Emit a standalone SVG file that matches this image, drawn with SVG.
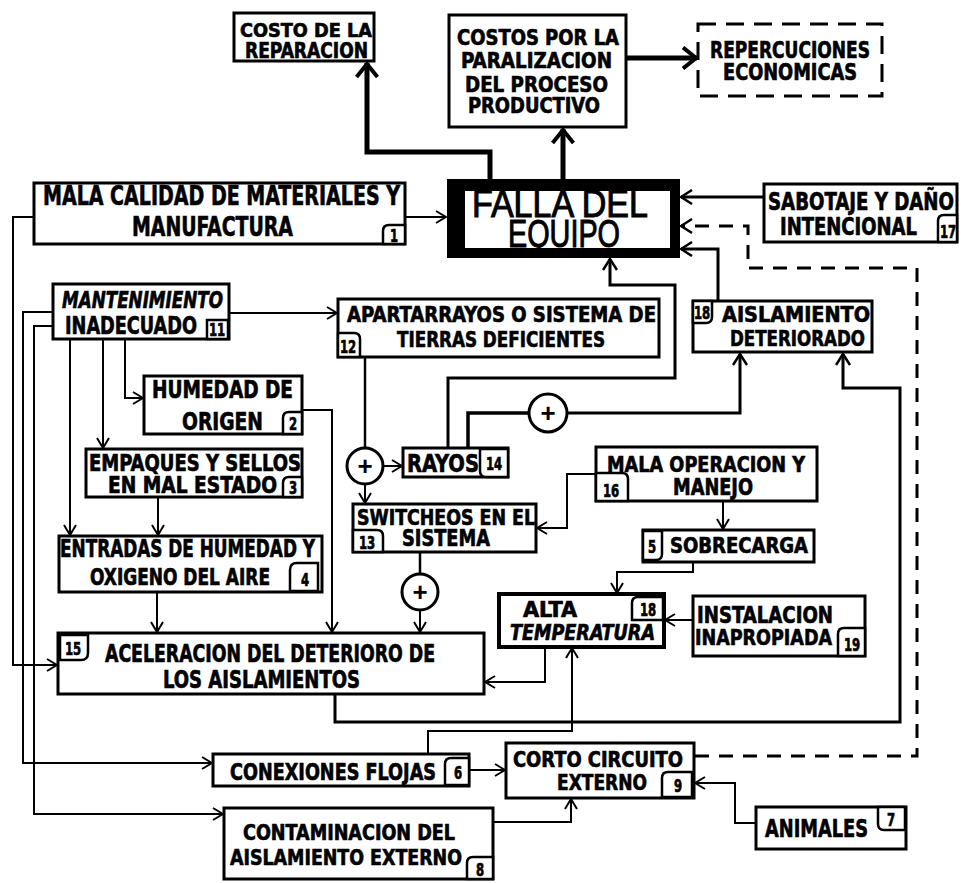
<svg xmlns="http://www.w3.org/2000/svg" width="962" height="883" viewBox="0 0 962 883">
<defs>
<style>
.b{fill:#fff;stroke:#000;stroke-width:3}
.bd{fill:#fff;stroke:#000;stroke-width:3;stroke-dasharray:18 10}
.n{fill:#fff;stroke:#000;stroke-width:2.5}
.t{font-family:"Liberation Sans Narrow","DejaVu Sans Condensed","Liberation Sans",Arial,sans-serif;font-weight:bold;fill:#000;stroke:#000;stroke-width:0.5}
.nt{font-size:13px;text-anchor:middle}
.big{font-family:"Liberation Sans",Arial,sans-serif;font-weight:normal;font-size:30px;fill:#000;stroke:#000;stroke-width:0.8}
.c{fill:none;stroke:#000;stroke-width:2;marker-end:url(#a)}
.c0{fill:none;stroke:#000;stroke-width:2.5}
.c3{fill:none;stroke:#000;stroke-width:3;marker-end:url(#am)}
.c3n{fill:none;stroke:#000;stroke-width:3.5}
.c5{fill:none;stroke:#000;stroke-width:5;marker-end:url(#at)}
.cd{fill:none;stroke:#000;stroke-width:3;stroke-dasharray:14 10;marker-end:url(#am)}
.j{fill:#fff;stroke:#000;stroke-width:3}
.pl{font-family:"Liberation Sans",Arial,sans-serif;font-weight:bold;font-size:26px;text-anchor:middle;fill:#000}
</style>
<marker id="a" viewBox="0 0 12 14" refX="11" refY="7" markerWidth="12" markerHeight="14" markerUnits="userSpaceOnUse" orient="auto"><path d="M1,1 L11,7 L1,13" fill="none" stroke="#000" stroke-width="2"/></marker>
<marker id="am" viewBox="0 0 13 16" refX="12" refY="8" markerWidth="13" markerHeight="16" markerUnits="userSpaceOnUse" orient="auto"><path d="M1,1 L12,8 L1,15" fill="none" stroke="#000" stroke-width="2.5"/></marker>
<marker id="at" viewBox="0 0 16 24" refX="15" refY="12" markerWidth="16" markerHeight="24" markerUnits="userSpaceOnUse" orient="auto"><path d="M1,1.5 L14,12 L1,22.5" fill="none" stroke="#000" stroke-width="4"/></marker>
</defs>
<rect width="962" height="883" fill="#fff"/>

<g id="connectors">
<path class="c5" d="M490,180 V152 H367 V63"/>
<path class="c5" d="M563,180 V129"/>
<path class="c5" d="M627,58 H697"/>
<path class="c" d="M406,217 H446"/>
<path class="c3" d="M763,197 H681"/>
<path class="cd" d="M695,756 H917 V268 H748 V226 H681"/>
<path class="c3" d="M718,300 V249 H681"/>
<path class="c3" d="M448,447 V378 H675 V285 H610 V259"/>
<path class="c3n" d="M468,447 V413 H529"/>
<path class="c3" d="M567,413 H740 V354"/>
<path class="c3" d="M335,695 V722 H900 V388 H843 V354"/>
<path class="c" d="M34,217 H13 V665 H57"/>
<path class="c" d="M53,312 H23 V763 H212"/>
<path class="c" d="M53,326 H34 V814 H223"/>
<path class="c" d="M229,313 H337"/>
<path class="c" d="M70,339 V535"/>
<path class="c" d="M103,339 V448"/>
<path class="c" d="M125,339 V398 H143"/>
<path class="c" d="M302,410 H332 V632"/>
<path class="c" d="M158,497 V535"/>
<path class="c" d="M157,592 V632"/>
<path class="c0" d="M365,357 V448"/>
<path class="c" d="M383,466 H402"/>
<path class="c" d="M365,484 V503"/>
<path class="c" d="M596,474 H567 V528 H537"/>
<path class="c" d="M723,501 V529"/>
<path class="c" d="M693,562 V572 H617 V593"/>
<path class="c0" d="M420,552 V574"/>
<path class="c" d="M420,610 V632"/>
<path class="c" d="M545,647 V682 H485"/>
<path class="c" d="M692,620 H665"/>
<path class="c" d="M428,754 V731 H572 V648"/>
<path class="c" d="M469,770 H505"/>
<path class="c" d="M493,822 H571 V799"/>
<path class="c" d="M756,823 H735 V783 H695"/>
</g>

<g id="j1"><circle class="j" cx="365" cy="466" r="18"/><text class="pl" x="365" y="475">+</text></g>
<g id="j2"><circle class="j" cx="548" cy="413" r="19"/><text class="pl" x="548" y="422">+</text></g>
<g id="j3"><circle class="j" cx="420" cy="592" r="18"/><text class="pl" x="420" y="601">+</text></g>

<g id="costo-reparacion">
<rect class="b" x="234" y="13" width="140" height="48"/>
<text class="t" font-size="15.4" transform="translate(240,37) scale(1,1.3)" textLength="132" lengthAdjust="spacingAndGlyphs">COSTO DE LA</text>
<text class="t" font-size="16.2" transform="translate(245,58) scale(1,1.3)" textLength="123" lengthAdjust="spacingAndGlyphs">REPARACION</text>
</g>

<g id="costos-paralizacion">
<rect class="b" x="449" y="15" width="177" height="112"/>
<text class="t" font-size="16.9" transform="translate(457,45) scale(1,1.3)" textLength="162" lengthAdjust="spacingAndGlyphs">COSTOS POR LA</text>
<text class="t" font-size="16.9" transform="translate(461,68) scale(1,1.3)" textLength="151" lengthAdjust="spacingAndGlyphs">PARALIZACION</text>
<text class="t" font-size="16.9" transform="translate(465,92) scale(1,1.3)" textLength="143" lengthAdjust="spacingAndGlyphs">DEL PROCESO</text>
<text class="t" font-size="16.9" transform="translate(468,113) scale(1,1.3)" textLength="132" lengthAdjust="spacingAndGlyphs">PRODUCTIVO</text>
</g>

<g id="repercusiones">
<rect class="bd" x="698" y="24" width="184" height="72"/>
<text class="t" font-size="17.7" transform="translate(710,58) scale(1,1.3)" textLength="160" lengthAdjust="spacingAndGlyphs">REPERCUCIONES</text>
<text class="t" font-size="17.7" transform="translate(723,80) scale(1,1.3)" textLength="134" lengthAdjust="spacingAndGlyphs">ECONOMICAS</text>
</g>

<g id="falla-equipo">
<rect x="447" y="179" width="233" height="79" fill="#000"/>
<rect x="465" y="191" width="205" height="57" fill="#fff"/>
<text class="big" transform="translate(472,217) scale(1,1.27)" textLength="176" lengthAdjust="spacingAndGlyphs">FALLA DEL</text>
<text class="big" transform="translate(508,247) scale(1,1.27)" textLength="112" lengthAdjust="spacingAndGlyphs">EQUIPO</text>
</g>

<g id="n1">
<rect class="b" x="34" y="183" width="371" height="61"/>
<text class="t" font-size="20.8" transform="translate(43,205) scale(1,1.3)" textLength="357" lengthAdjust="spacingAndGlyphs">MALA CALIDAD DE MATERIALES Y</text>
<text class="t" font-size="20.8" transform="translate(132,236) scale(1,1.3)" textLength="161" lengthAdjust="spacingAndGlyphs">MANUFACTURA</text>
<path class="n" d="M383,244 V231 Q383,225 389,225 H405 V244 Z"/>
<text class="t nt" transform="translate(394,242) scale(1,1.3)">1</text>
</g>

<g id="n17">
<rect class="b" x="764" y="184" width="193" height="58"/>
<text class="t" font-size="18.5" transform="translate(768,210) scale(1,1.3)" textLength="186" lengthAdjust="spacingAndGlyphs">SABOTAJE Y DAÑO</text>
<text class="t" font-size="18.5" transform="translate(780,235) scale(1,1.3)" textLength="137" lengthAdjust="spacingAndGlyphs">INTENCIONAL</text>
<path class="n" d="M938,242 V221 Q938,215 944,215 H957 V242 Z"/>
<text class="t nt" transform="translate(948,238) scale(1,1.3)">17</text>
</g>

<g id="n11">
<rect class="b" x="53" y="284" width="176" height="55"/>
<text class="t" font-size="17.7" font-style="italic" transform="translate(62,308) scale(1,1.3)" textLength="161" lengthAdjust="spacingAndGlyphs">MANTENIMIENTO</text>
<text class="t" font-size="18.5" transform="translate(65,334) scale(1,1.3)" textLength="132" lengthAdjust="spacingAndGlyphs">INADECUADO</text>
<rect class="n" x="207" y="320" width="21" height="19"/>
<text class="t nt" transform="translate(217,336) scale(1,1.3)">11</text>
</g>

<g id="n12">
<rect class="b" x="338" y="299" width="321" height="58"/>
<text class="t" font-size="16.9" transform="translate(347,322) scale(1,1.3)" textLength="309" lengthAdjust="spacingAndGlyphs">APARTARRAYOS O SISTEMA DE</text>
<text class="t" font-size="16.9" transform="translate(397,347) scale(1,1.3)" textLength="208" lengthAdjust="spacingAndGlyphs">TIERRAS DEFICIENTES</text>
<path class="n" d="M338,333 H354 Q360,333 360,339 V357 H338 Z"/>
<text class="t nt" transform="translate(348,353) scale(1,1.3)">12</text>
</g>

<g id="n18a">
<rect class="b" x="693" y="301" width="179" height="51"/>
<text class="t" font-size="16.9" transform="translate(722,322) scale(1,1.3)" textLength="148" lengthAdjust="spacingAndGlyphs">AISLAMIENTO</text>
<text class="t" font-size="16.9" transform="translate(730,346) scale(1,1.3)" textLength="135" lengthAdjust="spacingAndGlyphs">DETERIORADO</text>
<path class="n" d="M693,301 H712 V317 Q712,323 706,323 H693 Z"/>
<text class="t nt" transform="translate(702,319) scale(1,1.3)">18</text>
</g>

<g id="n2">
<rect class="b" x="144" y="376" width="158" height="58"/>
<text class="t" font-size="18.5" transform="translate(152,398) scale(1,1.3)" textLength="141" lengthAdjust="spacingAndGlyphs">HUMEDAD DE</text>
<text class="t" font-size="19.2" transform="translate(182,430) scale(1,1.3)" textLength="81" lengthAdjust="spacingAndGlyphs">ORIGEN</text>
<path class="n" d="M283,434 V418 Q283,412 289,412 H302 V434 Z"/>
<text class="t nt" transform="translate(293,430) scale(1,1.3)">2</text>
</g>

<g id="n3">
<rect class="b" x="86" y="449" width="216" height="48"/>
<text class="t" font-size="17.7" transform="translate(89,471) scale(1,1.3)" textLength="212" lengthAdjust="spacingAndGlyphs">EMPAQUES Y SELLOS</text>
<text class="t" font-size="17.7" transform="translate(108,493) scale(1,1.3)" textLength="169" lengthAdjust="spacingAndGlyphs">EN MAL ESTADO</text>
<path class="n" d="M283,497 V483 Q283,477 289,477 H302 V497 Z"/>
<text class="t nt" transform="translate(293,494) scale(1,1.3)">3</text>
</g>

<g id="n4">
<rect class="b" x="59" y="536" width="263" height="56"/>
<text class="t" font-size="18.5" transform="translate(60,557) scale(1,1.3)" textLength="255" lengthAdjust="spacingAndGlyphs">ENTRADAS DE HUMEDAD Y</text>
<text class="t" font-size="17.7" transform="translate(90,585) scale(1,1.3)" textLength="180" lengthAdjust="spacingAndGlyphs">OXIGENO DEL AIRE</text>
<path class="n" d="M290,591 V570 Q290,563 297,563 H318 V591 Z"/>
<text class="t nt" transform="translate(305,586) scale(1,1.3)">4</text>
</g>

<g id="n15">
<rect class="b" x="58" y="633" width="426" height="61"/>
<text class="t" font-size="18.5" transform="translate(105,662) scale(1,1.3)" textLength="330" lengthAdjust="spacingAndGlyphs">ACELERACION DEL DETERIORO DE</text>
<text class="t" font-size="18.5" transform="translate(163,688) scale(1,1.3)" textLength="197" lengthAdjust="spacingAndGlyphs">LOS AISLAMIENTOS</text>
<path class="n" d="M60,635 H88 V653 Q88,660 81,660 H60 Z"/>
<text class="t nt" transform="translate(73,655) scale(1,1.3)">15</text>
</g>

<g id="n14">
<rect class="b" x="403" y="448" width="105" height="29"/>
<text class="t" font-size="19.2" transform="translate(407,472) scale(1,1.3)" textLength="72" lengthAdjust="spacingAndGlyphs">RAYOS</text>
<path class="n" d="M480,449 H508 V477 H486 Q480,477 480,471 Z"/>
<text class="t nt" transform="translate(494,470) scale(1,1.3)">14</text>
</g>

<g id="n13">
<rect class="b" x="353" y="504" width="183" height="48"/>
<text class="t" font-size="16.9" transform="translate(357,525) scale(1,1.3)" textLength="178" lengthAdjust="spacingAndGlyphs">SWITCHEOS EN EL</text>
<text class="t" font-size="17.7" transform="translate(402,546) scale(1,1.3)" textLength="88" lengthAdjust="spacingAndGlyphs">SISTEMA</text>
<path class="n" d="M353,530 H377 Q383,530 383,536 V552 H353 Z"/>
<text class="t nt" transform="translate(367,549) scale(1,1.3)">13</text>
</g>

<g id="n16">
<rect class="b" x="596" y="447" width="221" height="54"/>
<text class="t" font-size="16.9" transform="translate(607,472) scale(1,1.3)" textLength="198" lengthAdjust="spacingAndGlyphs">MALA OPERACION Y</text>
<text class="t" font-size="17.7" transform="translate(673,495) scale(1,1.3)" textLength="80" lengthAdjust="spacingAndGlyphs">MANEJO</text>
<path class="n" d="M596,473 H622 Q628,473 628,479 V501 H596 Z"/>
<text class="t nt" transform="translate(611,497) scale(1,1.3)">16</text>
</g>

<g id="n5">
<rect class="b" x="643" y="530" width="171" height="32"/>
<text class="t" font-size="16.9" transform="translate(670,553) scale(1,1.3)" textLength="138" lengthAdjust="spacingAndGlyphs">SOBRECARGA</text>
<path class="n" d="M643,531 H662 V554 Q662,560 656,560 H643 Z"/>
<text class="t nt" transform="translate(652,553) scale(1,1.3)">5</text>
</g>

<g id="n18b">
<rect class="b" x="499" y="594" width="165" height="53" style="stroke-width:4"/>
<text class="t" font-size="16.2" transform="translate(523,617) scale(1,1.3)" textLength="54" lengthAdjust="spacingAndGlyphs">ALTA</text>
<text class="t" font-size="16.2" font-style="italic" transform="translate(510,640) scale(1,1.3)" textLength="145" lengthAdjust="spacingAndGlyphs">TEMPERATURA</text>
<path class="n" d="M632,620 V603 Q632,597 638,597 H663 V620 Z"/>
<text class="t nt" transform="translate(648,616) scale(1,1.3)">18</text>
</g>

<g id="n19">
<rect class="b" x="693" y="596" width="172" height="60"/>
<text class="t" font-size="17.7" transform="translate(697,623) scale(1,1.3)" textLength="136" lengthAdjust="spacingAndGlyphs">INSTALACION</text>
<text class="t" font-size="16.9" transform="translate(695,645) scale(1,1.3)" textLength="137" lengthAdjust="spacingAndGlyphs">INAPROPIADA</text>
<path class="n" d="M838,656 V634 Q838,628 844,628 H865 V656 Z"/>
<text class="t nt" transform="translate(852,651) scale(1,1.3)">19</text>
</g>

<g id="n6">
<rect class="b" x="213" y="754" width="256" height="32"/>
<text class="t" font-size="17.7" transform="translate(230,780) scale(1,1.3)" textLength="206" lengthAdjust="spacingAndGlyphs">CONEXIONES FLOJAS</text>
<path class="n" d="M445,785 V764 Q445,758 451,758 H469 V785 Z"/>
<text class="t nt" transform="translate(458,779) scale(1,1.3)">6</text>
</g>

<g id="n9">
<rect class="b" x="506" y="743" width="188" height="55"/>
<text class="t" font-size="16.2" transform="translate(513,767) scale(1,1.3)" textLength="170" lengthAdjust="spacingAndGlyphs">CORTO CIRCUITO</text>
<text class="t" font-size="16.9" transform="translate(557,790) scale(1,1.3)" textLength="90" lengthAdjust="spacingAndGlyphs">EXTERNO</text>
<path class="n" d="M662,797 V778 Q662,772 668,772 H692 V797 Z"/>
<text class="t nt" transform="translate(678,792) scale(1,1.3)">9</text>
</g>

<g id="n8">
<rect class="b" x="224" y="808" width="269" height="71"/>
<text class="t" font-size="16.2" transform="translate(243,840) scale(1,1.3)" textLength="212" lengthAdjust="spacingAndGlyphs">CONTAMINACION DEL</text>
<text class="t" font-size="16.9" transform="translate(230,865) scale(1,1.3)" textLength="232" lengthAdjust="spacingAndGlyphs">AISLAMIENTO EXTERNO</text>
<path class="n" d="M467,879 V863 Q467,857 473,857 H493 V879 Z"/>
<text class="t nt" transform="translate(480,876) scale(1,1.3)">8</text>
</g>

<g id="n7">
<rect class="b" x="756" y="807" width="150" height="42"/>
<text class="t" font-size="19.2" transform="translate(765,837) scale(1,1.3)" textLength="103" lengthAdjust="spacingAndGlyphs">ANIMALES</text>
<path class="n" d="M878,807 H905 V830 H884 Q878,830 878,824 Z"/>
<text class="t nt" transform="translate(891,826) scale(1,1.3)">7</text>
</g>
</svg>
